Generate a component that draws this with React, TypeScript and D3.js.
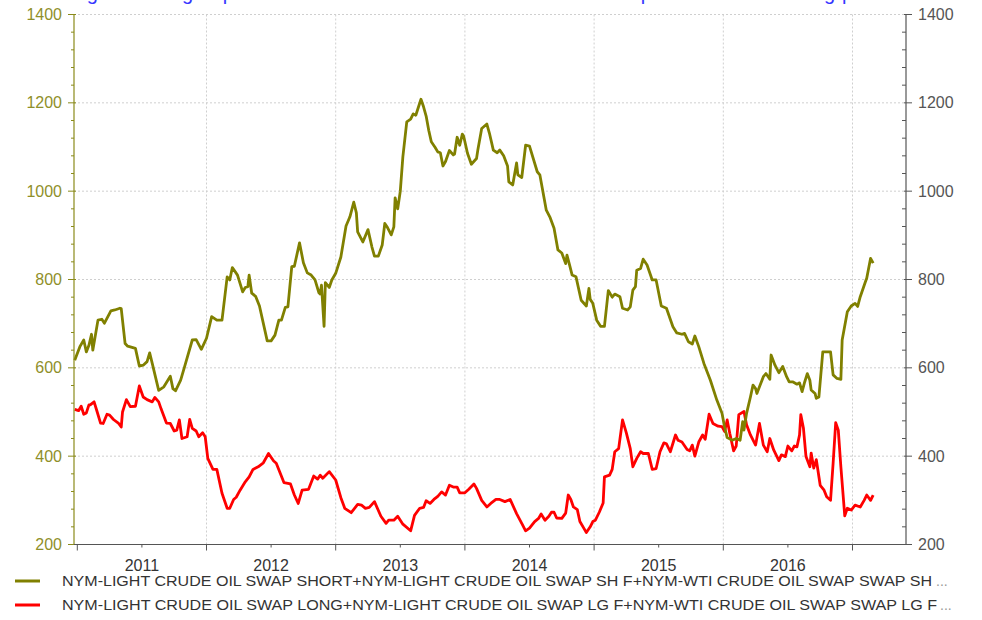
import React from "react";
import * as d3 from "d3";

// Decimal-year dates and values (contracts)
const shortDates = [2010.98,2011.02,2011.05,2011.07,2011.09,2011.11,2011.12,2011.16,2011.19,2011.21,2011.26,2011.29,2011.33,2011.34,2011.37,2011.39,2011.45,2011.48,2011.51,2011.54,2011.56,2011.58,2011.63,2011.67,2011.72,2011.74,2011.76,2011.80,2011.83,2011.89,2011.92,2011.96,2012.00,2012.04,2012.08,2012.12,2012.16,2012.18,2012.20,2012.24,2012.28,2012.30,2012.32,2012.33,2012.35,2012.38,2012.41,2012.47,2012.50,2012.53,2012.56,2012.58,2012.61,2012.63,2012.66,2012.68,2012.72,2012.75,2012.78,2012.81,2012.84,2012.87,2012.88,2012.89,2012.91,2012.92,2012.95,2012.97,2013.00,2013.04,2013.08,2013.11,2013.14,2013.16,2013.17,2013.21,2013.25,2013.28,2013.30,2013.33,2013.36,2013.38,2013.40,2013.43,2013.45,2013.46,2013.48,2013.50,2013.52,2013.55,2013.58,2013.60,2013.62,2013.66,2013.68,2013.70,2013.72,2013.74,2013.77,2013.79,2013.81,2013.83,2013.85,2013.88,2013.91,2013.92,2013.94,2013.96,2013.98,2013.99,2014.02,2014.05,2014.09,2014.10,2014.13,2014.17,2014.19,2014.22,2014.25,2014.27,2014.30,2014.33,2014.34,2014.37,2014.40,2014.41,2014.44,2014.47,2014.50,2014.56,2014.58,2014.63,2014.66,2014.69,2014.72,2014.75,2014.78,2014.79,2014.81,2014.83,2014.86,2014.90,2014.94,2014.96,2014.97,2014.99,2015.02,2015.05,2015.08,2015.11,2015.14,2015.16,2015.20,2015.22,2015.26,2015.28,2015.30,2015.32,2015.33,2015.36,2015.38,2015.41,2015.45,2015.48,2015.52,2015.56,2015.61,2015.64,2015.68,2015.70,2015.73,2015.76,2015.78,2015.81,2015.85,2015.90,2015.95,2015.99,2016.01,2016.03,2016.07,2016.10,2016.13,2016.15,2016.16,2016.18,2016.21,2016.23,2016.25,2016.26,2016.28,2016.31,2016.33,2016.36,2016.37,2016.40,2016.43,2016.46,2016.49,2016.51,2016.54,2016.57,2016.59,2016.61,2016.63,2016.65,2016.67,2016.68,2016.71,2016.72,2016.74,2016.77,2016.80,2016.83,2016.85,2016.88,2016.91,2016.92,2016.96,2016.99,2017.02,2017.04,2017.06,2017.10,2017.11,2017.14,2017.16];
const shortValues = [617,648,663,636,651,676,640,708,710,701,729,731,735,734,655,649,644,604,606,614,634,610,549,557,581,553,548,572,602,663,664,642,667,716,708,708,806,799,827,810,772,782,784,810,769,762,740,661,661,674,708,708,737,738,829,830,883,838,815,810,799,770,767,787,694,793,782,799,814,851,921,942,975,951,908,885,913,874,853,853,878,927,918,901,919,985,960,1000,1078,1157,1163,1175,1172,1208,1191,1170,1138,1112,1099,1089,1087,1057,1067,1092,1082,1084,1122,1104,1129,1125,1086,1061,1074,1093,1142,1152,1131,1093,1087,1093,1080,1057,1021,1014,1064,1037,1031,1104,1102,1044,1037,957,940,916,867,860,836,855,833,810,806,753,740,780,755,746,708,694,694,775,760,767,761,735,731,738,776,784,821,825,846,833,799,799,740,735,693,679,676,678,659,654,672,648,610,572,527,497,466,442,436,440,436,478,459,497,534,561,553,542,557,580,587,574,629,606,589,603,580,568,568,563,566,546,568,587,572,550,542,531,534,636,636,636,584,576,574,663,727,740,746,739,761,795,803,848,837];

const longDates = [2010.98,2011.01,2011.03,2011.05,2011.07,2011.09,2011.10,2011.13,2011.15,2011.18,2011.20,2011.23,2011.25,2011.28,2011.32,2011.34,2011.35,2011.38,2011.41,2011.45,2011.48,2011.51,2011.54,2011.58,2011.60,2011.63,2011.65,2011.69,2011.72,2011.75,2011.77,2011.79,2011.81,2011.85,2011.87,2011.89,2011.92,2011.94,2011.97,2011.99,2012.01,2012.05,2012.08,2012.12,2012.16,2012.18,2012.21,2012.23,2012.26,2012.30,2012.33,2012.36,2012.40,2012.44,2012.48,2012.52,2012.54,2012.57,2012.60,2012.65,2012.68,2012.71,2012.74,2012.79,2012.83,2012.86,2012.88,2012.90,2012.95,2013.00,2013.04,2013.07,2013.12,2013.17,2013.20,2013.23,2013.26,2013.30,2013.35,2013.39,2013.41,2013.45,2013.48,2013.52,2013.58,2013.61,2013.65,2013.68,2013.70,2013.73,2013.76,2013.79,2013.82,2013.85,2013.88,2013.91,2013.94,2013.96,2014.00,2014.03,2014.07,2014.09,2014.13,2014.17,2014.20,2014.24,2014.27,2014.31,2014.35,2014.40,2014.44,2014.47,2014.50,2014.54,2014.57,2014.59,2014.62,2014.65,2014.67,2014.69,2014.71,2014.75,2014.78,2014.80,2014.82,2014.84,2014.87,2014.89,2014.92,2014.94,2014.97,2014.99,2015.01,2015.04,2015.07,2015.08,2015.12,2015.14,2015.16,2015.19,2015.22,2015.25,2015.28,2015.30,2015.33,2015.36,2015.38,2015.42,2015.45,2015.48,2015.51,2015.54,2015.56,2015.59,2015.63,2015.65,2015.68,2015.72,2015.74,2015.76,2015.78,2015.81,2015.84,2015.86,2015.89,2015.92,2015.96,2015.99,2016.01,2016.03,2016.05,2016.08,2016.10,2016.12,2016.16,2016.18,2016.21,2016.25,2016.28,2016.31,2016.34,2016.36,2016.39,2016.43,2016.45,2016.48,2016.50,2016.53,2016.55,2016.57,2016.59,2016.60,2016.62,2016.64,2016.67,2016.68,2016.70,2016.72,2016.75,2016.78,2016.80,2016.83,2016.85,2016.87,2016.89,2016.91,2016.94,2016.96,2016.99,2017.02,2017.06,2017.09,2017.11,2017.14,2017.16];
const longValues = [506,503,513,495,498,516,516,523,504,475,474,495,493,483,474,466,500,528,512,513,559,534,528,523,533,523,506,475,474,457,459,482,440,444,483,463,457,444,453,444,395,370,370,316,282,282,302,307,323,342,353,370,376,385,406,389,384,362,340,337,312,293,323,325,355,348,357,350,365,346,306,282,272,291,289,282,284,297,264,248,255,255,264,246,231,266,282,284,299,293,302,309,319,312,334,330,330,317,317,325,337,327,300,285,293,302,302,297,302,270,248,231,237,252,259,269,255,264,273,273,260,259,271,312,302,285,279,252,237,227,240,252,255,273,294,353,357,370,410,417,482,452,417,376,395,410,406,406,370,372,410,430,428,410,448,436,432,415,412,425,400,432,448,438,495,474,468,467,456,482,452,412,423,494,501,471,448,425,474,425,410,440,414,390,403,399,423,412,423,421,448,494,464,399,376,407,373,392,334,323,308,300,384,476,459,376,265,282,278,289,285,300,312,300,312];

const leftTicks = [200, 400, 600, 800, 1000, 1200, 1400];
const yearLabels = ["2011", "2012", "2013", "2014", "2015", "2016"];
const yearBounds = [2011, 2012, 2013, 2014, 2015, 2016, 2017];
const legendLabels = [
  "NYM-LIGHT CRUDE OIL SWAP SHORT+NYM-LIGHT CRUDE OIL SWAP SH F+NYM-WTI CRUDE OIL SWAP SWAP SH",
  "NYM-LIGHT CRUDE OIL SWAP LONG+NYM-LIGHT CRUDE OIL SWAP LG F+NYM-WTI CRUDE OIL SWAP SWAP LG F",
];
const seriesColors = ["#808000", "#ff0000"];

const W = 982, H = 620;
const L = 74, R = 906, T = 14.5, B = 544.5;

export default function App() {
  const x = d3.scaleLinear().domain([2011, 2017]).range([77.3, 852.5]);
  const y = d3.scaleLinear().domain([200, 1400]).range([B, T]);
  const line = d3.line<[number, number]>().x(d => x(d[0])).y(d => y(d[1])).curve(d3.curveLinear);
  const shortPts = shortDates.map((t, i) => [t, shortValues[i]] as [number, number]);
  const longPts = longDates.map((t, i) => [t, longValues[i]] as [number, number]);
  const minorY = d3.range(200, 1401, 40).filter(v => v % 200 !== 0);
  const minorX = d3.range(2010.5, 2017.5, 0.5).filter(v => v % 1 !== 0 && x(v) > L && x(v) < R);
  const font = "'Liberation Sans', Arial, sans-serif";

  return (
    <div style={{ position: "absolute", left: 0, top: 0 }}>
      <svg width={W} height={H} style={{ display: "block", fontFamily: font }}>
        <rect width={W} height={H} fill="#fff" />
        {/* title, clipped by the top edge (only descenders visible, as in the reference) */}
        <text y={-0.5} fontSize={20} fill="#3535ff">
          <tspan x={98} textAnchor="end">Net long</tspan>
          <tspan x={193} textAnchor="end">long</tspan>
          <tspan x={234} textAnchor="end">up</tspan>
          <tspan x={652} textAnchor="end">swap</tspan>
          <tspan x={835} textAnchor="end">long</tspan>
          <tspan x={842} textAnchor="start">positions</tspan>
        </text>
        {/* grid */}
        {leftTicks.map(v => (
          <line key={"gy" + v} x1={L} x2={R} y1={y(v)} y2={y(v)} stroke="#cfcfcf" strokeDasharray="2,2" />
        ))}
        {yearBounds.slice(1).map(v => (
          <line key={"gx" + v} x1={x(v)} x2={x(v)} y1={T} y2={B} stroke="#cfcfcf" strokeDasharray="2,2" />
        ))}
        {/* series */}
        <path d={line(longPts) || ""} fill="none" stroke={seriesColors[1]} strokeWidth={2.8} strokeLinejoin="round" />
        <path d={line(shortPts) || ""} fill="none" stroke={seriesColors[0]} strokeWidth={2.8} strokeLinejoin="round" />
        {/* left axis */}
        <line x1={L} x2={L} y1={T} y2={B} stroke="#8a8a1a" strokeWidth={1.2} />
        {leftTicks.map(v => (
          <g key={"lt" + v}>
            <line x1={L - 6} x2={L + 2} y1={y(v)} y2={y(v)} stroke="#8a8a1a" />
            <text x={62} y={y(v)} dy="0.35em" textAnchor="end" fontSize={16} fill="#8f8f2a">{v}</text>
          </g>
        ))}
        {minorY.map(v => (
          <line key={"lm" + v} x1={L - 3} x2={L} y1={y(v)} y2={y(v)} stroke="#8a8a1a" />
        ))}
        {/* right axis */}
        <line x1={R} x2={R} y1={T} y2={B} stroke="#555" strokeWidth={1.2} />
        {leftTicks.map(v => (
          <g key={"rt" + v}>
            <line x1={R - 2} x2={R + 6} y1={y(v)} y2={y(v)} stroke="#555" />
            <text x={918} y={y(v)} dy="0.35em" textAnchor="start" fontSize={16} fill="#555">{v}</text>
          </g>
        ))}
        {minorY.map(v => (
          <line key={"rm" + v} x1={R - 4} x2={R} y1={y(v)} y2={y(v)} stroke="#555" />
        ))}
        {/* bottom axis */}
        <line x1={L} x2={R} y1={B} y2={B} stroke="#555" strokeWidth={1.2} />
        {yearBounds.map(v => (
          <line key={"bt" + v} x1={x(v)} x2={x(v)} y1={B} y2={B + 6} stroke="#555" />
        ))}
        {minorX.map(v => (
          <line key={"bm" + v} x1={x(v)} x2={x(v)} y1={B} y2={B + 3} stroke="#555" />
        ))}
        {yearLabels.map((lab, i) => (
          <text key={lab} x={x(yearBounds[i] + 0.5)} y={571} textAnchor="middle" fontSize={16} fill="#333">{lab}</text>
        ))}
        {/* legend */}
        {legendLabels.map((lab, i) => (
          <g key={"lg" + i} transform={`translate(0, ${581 + i * 24})`}>
            <line x1={15} x2={40} y1={0} y2={0} stroke={seriesColors[i]} strokeWidth={3} />
            <text x={62} y={0} dy="0.35em" fontSize={14} fill="#333" textLength={i === 0 ? 870 : 875} lengthAdjust="spacingAndGlyphs">{lab}</text>
            <text x={i === 0 ? 936 : 940} y={0} dy="0.35em" fontSize={14} fill="#999">...</text>
          </g>
        ))}
      </svg>
    </div>
  );
}
